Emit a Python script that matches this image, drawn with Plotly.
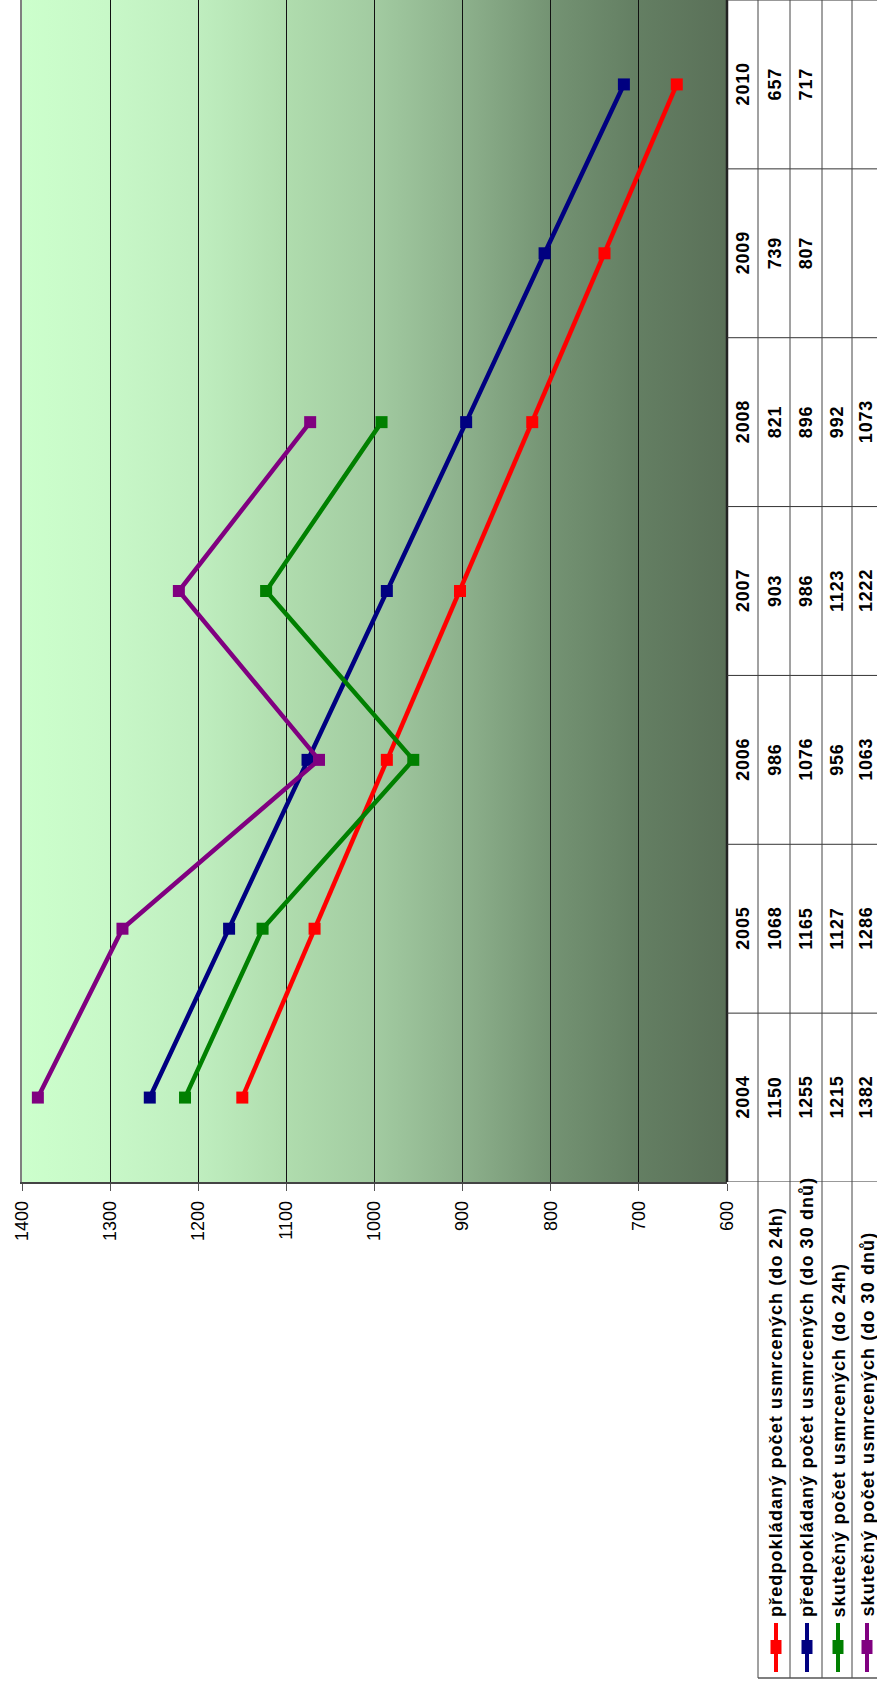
import base64
import plotly.graph_objects as go

# ---------------- data ----------------
years = [2004, 2005, 2006, 2007, 2008, 2009, 2010]
series_names = [
    "předpokládaný počet usmrcených (do 24h)",
    "předpokládaný počet usmrcených (do 30 dnů)",
    "skutečný počet usmrcených (do 24h)",
    "skutečný počet usmrcených (do 30 dnů)",
]
pred_24h = [1150, 1068, 986, 903, 821, 739, 657]
pred_30d = [1255, 1165, 1076, 986, 896, 807, 717]
skut_24h = [1215, 1127, 956, 1123, 992, None, None]
skut_30d = [1382, 1286, 1063, 1222, 1073, None, None]
value_ticks = [600, 700, 800, 900, 1000, 1100, 1200, 1300, 1400]
series_colors = ["#FF0000", "#000080", "#008000", "#800080"]
series_values = [pred_24h, pred_30d, skut_24h, skut_30d]

# ---------------- geometry (pixels of the 877x1688 page) ----------------
W, H = 877, 1688
PL, PR, PT, PB = 22, 727, 0, 1182          # plot area
FONT = "Liberation Sans, Arial, sans-serif"


def pxx(p):
    return (p - PL) / (PR - PL)


def pxy(p):
    return (PB - p) / (PB - PT)


def spaced(txt, px):
    return f"<span style='letter-spacing:{px}px'>{txt}</span>"


row_centers = [775, 806, 837, 866]          # table rows (rotated columns)
row_lines = [758, 790, 822, 852]
header_center = 743
table_right = 890
legend_bottom = 1678
legend_text_start = 1618

fig = go.Figure()

# gradient background image (below gridlines)
stops = [(0, "#CCFFCC"), (12, "#C8F8C8"), (25, "#BFEEBF"), (37, "#B0DDAE"),
         (50, "#A2CBA1"), (62, "#8EB28D"), (75, "#749373"), (87, "#647F63"), (100, "#5A7058")]
stop_xml = "".join(f"<stop offset='{o}%' stop-color='{c}'/>" for o, c in stops)
svg = ("<svg xmlns='http://www.w3.org/2000/svg' width='100' height='100' viewBox='0 0 100 100' "
       "preserveAspectRatio='none'><defs><linearGradient id='g' x1='0' y1='0' x2='1' y2='0'>"
       + stop_xml + "</linearGradient></defs><rect x='0' y='0' width='100' height='100' fill='url(#g)'/></svg>")
src = "data:image/svg+xml;base64," + base64.b64encode(svg.encode()).decode()
fig.add_layout_image(dict(source=src, xref="paper", yref="paper", x=0, y=1, sizex=1, sizey=1,
                          xanchor="left", yanchor="top", sizing="stretch", layer="below"))

for name, vals, col in zip(series_names, series_values, series_colors):
    fig.add_trace(go.Scatter(
        x=vals, y=years, mode="lines+markers", name=name,
        line=dict(color=col, width=4.5),
        marker=dict(symbol="square", size=12, color=col, line=dict(width=0)),
        connectgaps=False, showlegend=False, hoverinfo="skip",
    ))

shapes = []
annotations = []

# right border of plot area
shapes.append(dict(type="line", xref="paper", yref="paper", x0=1, x1=1, y0=0, y1=1,
                   line=dict(color="#222222", width=2.5)))

# data table: category boundaries
for k in range(len(years) + 1):
    yb = years[0] - 0.5 + k
    shapes.append(dict(type="line", xref="paper", yref="y", x0=1, x1=pxx(table_right),
                       y0=yb, y1=yb, line=dict(color="#333333", width=1)))
# data table: row separators (continue through legend area)
for rl in row_lines:
    shapes.append(dict(type="line", xref="paper", yref="paper", x0=pxx(rl), x1=pxx(rl),
                       y0=pxy(legend_bottom), y1=1, line=dict(color="#444444", width=1)))
# legend area bottom
shapes.append(dict(type="line", xref="paper", yref="paper", x0=pxx(row_lines[0]), x1=pxx(table_right),
                   y0=pxy(legend_bottom), y1=pxy(legend_bottom), line=dict(color="#555555", width=1.5)))

# table texts
for yr in years:
    annotations.append(dict(xref="paper", yref="y", x=pxx(header_center), y=yr, text=spaced(yr, 0.8),
                            textangle=-90, showarrow=False, xanchor="center", yanchor="middle",
                            borderpad=0,
                            font=dict(family=FONT, size=18, color="black", weight="bold")))
for rc, vals in zip(row_centers, series_values):
    for yr, v in zip(years, vals):
        if v is None:
            continue
        annotations.append(dict(xref="paper", yref="y", x=pxx(rc), y=yr, text=spaced(v, 0.8),
                                textangle=-90, showarrow=False, xanchor="center", yanchor="middle",
                                borderpad=0,
                                font=dict(family=FONT, size=18, color="black", weight="bold")))

# legend keys + names in the table
for rc, name, col in zip(row_centers, series_names, series_colors):
    shapes.append(dict(type="line", xref="paper", yref="paper", x0=pxx(rc + 1), x1=pxx(rc + 1),
                       y0=pxy(1672), y1=pxy(1623), line=dict(color=col, width=4)))
    shapes.append(dict(type="rect", xref="paper", yref="paper", x0=pxx(rc - 4.5), x1=pxx(rc + 6.5),
                       y0=pxy(1654), y1=pxy(1640), fillcolor=col, line=dict(width=0)))
    annotations.append(dict(xref="paper", yref="paper", x=pxx(rc + 1), y=pxy(legend_text_start),
                            text=spaced(name, 1.1), textangle=-90, showarrow=False, xanchor="center",
                            yanchor="bottom", borderpad=0,
                            font=dict(family=FONT, size=18, color="black", weight="bold")))

fig.update_layout(
    width=W, height=H,
    margin=dict(l=PL, r=W - PR, t=PT, b=H - PB, pad=0),
    paper_bgcolor="white", plot_bgcolor="rgba(0,0,0,0)",
    showlegend=False,
    shapes=shapes, annotations=annotations,
    xaxis=dict(range=[1400, 600], tickvals=value_ticks, ticktext=[str(v) for v in value_ticks],
               tickangle=-90, tickfont=dict(family=FONT, size=18, color="black"),
               ticks="outside", ticklen=7, tickcolor="#555555", ticklabelstandoff=3,
               showgrid=True, gridcolor="#111111", gridwidth=1,
               showline=True, linecolor="#444444", linewidth=1.5, zeroline=False),
    yaxis=dict(range=[years[0] - 0.5, years[-1] + 0.5], showticklabels=False, ticks="",
               showgrid=False, zeroline=False, showline=True, linecolor="#808080", linewidth=2),
    hovermode=False,
)

fig.write_html("out.html", config={"displayModeBar": False},
               post_script="document.body.style.margin='0';document.body.style.overflow='hidden';")
